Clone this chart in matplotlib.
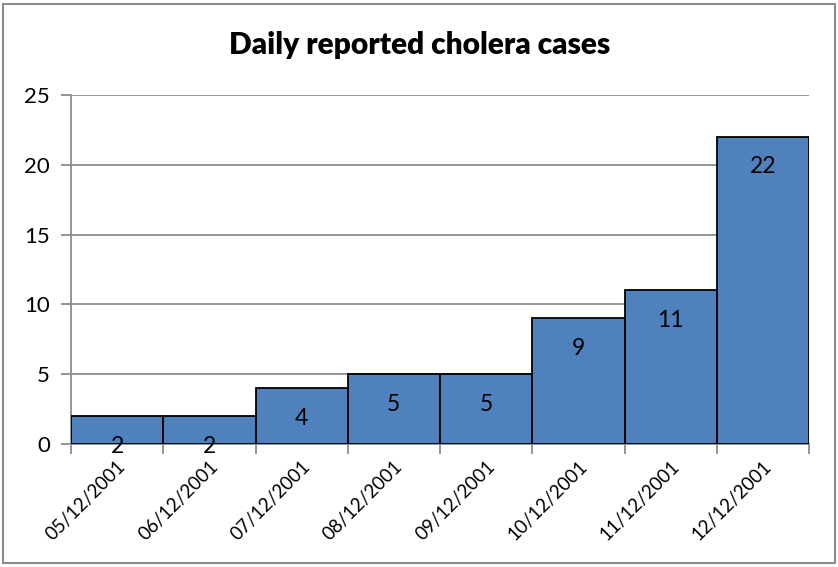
import matplotlib.pyplot as plt
from matplotlib.patches import Rectangle
import numpy as np

plt.rcParams['font.family'] = ['Lato', 'DejaVu Sans']

# data
dates = ["05/12/2001", "06/12/2001", "07/12/2001", "08/12/2001",
         "09/12/2001", "10/12/2001", "11/12/2001", "12/12/2001"]
cases = [2, 2, 4, 5, 5, 9, 11, 22]

fig = plt.figure(figsize=(8.38, 5.67), dpi=100)
ax = fig.add_axes([71 / 838, 1 - 444 / 567, (809 - 71) / 838, (444 - 95) / 567])

# chart border
fig.patches.append(Rectangle((3 / 838, 4 / 567), 832 / 838, 559 / 567,
                             transform=fig.transFigure, fill=False,
                             edgecolor="#8c8c8c", linewidth=1.5))

x = np.arange(len(cases))
bars = ax.bar(x, cases, width=1.0, color="#4f81bd", edgecolor="black", linewidth=1.3, zorder=3)

for xi, v in zip(x, cases):
    ax.annotate(str(v), (xi, v), xytext=(0, -30), textcoords="offset pixels",
                ha="center", va="center", fontsize=16.5, zorder=4,
                annotation_clip=False)

ax.set_xlim(-0.5, len(cases) - 0.5)
ax.set_ylim(0, 25)
ax.set_yticks(range(0, 26, 5))
ax.grid(axis="y", color="#8c8c8c", linewidth=1.3, zorder=0)

ax.set_xticks(x)
ax.set_xticklabels(dates, rotation=45, ha="right", rotation_mode="anchor", fontsize=13.5)
ax.set_xticks(np.arange(-0.5, len(cases)), minor=True)
ax.tick_params(axis="x", which="major", length=0, pad=10)
ax.tick_params(axis="x", which="minor", length=7, color="#8c8c8c", width=1.3)
ax.tick_params(axis="y", length=7, color="#8c8c8c", width=1.3, labelsize=16, pad=8)

for s in ["top", "right"]:
    ax.spines[s].set_visible(False)
for s in ["left", "bottom"]:
    ax.spines[s].set_color("#8c8c8c")
    ax.spines[s].set_linewidth(1.3)

fig.text(420 / 838, 1 - 45 / 567, "Daily reported cholera cases",
         ha="center", va="center", fontsize=21.5, fontweight="heavy")

fig.savefig("out.png", dpi=100)
